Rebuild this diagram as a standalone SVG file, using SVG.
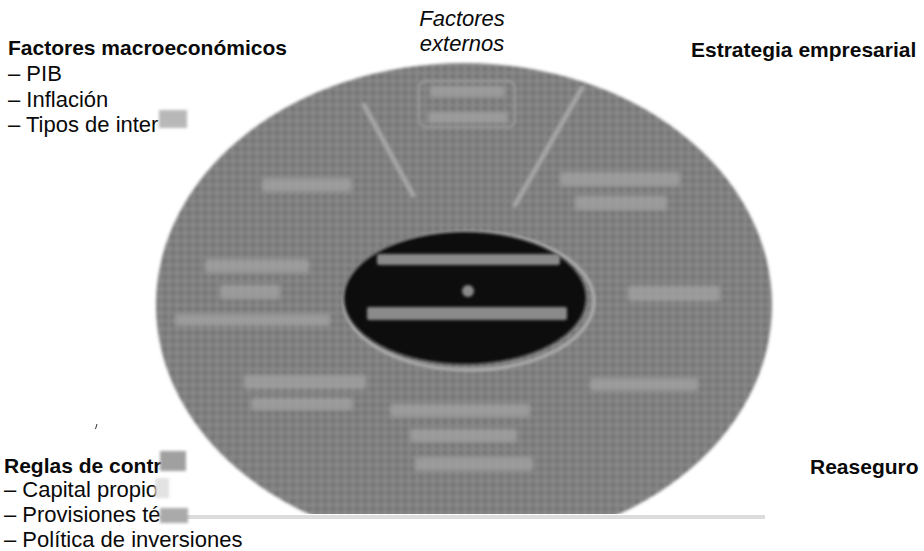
<svg xmlns="http://www.w3.org/2000/svg" width="924" height="551" viewBox="0 0 924 551">
<defs>
<style>
.t{font-family:"Liberation Sans",Arial,Helvetica,sans-serif;font-size:22px;fill:#0a0a0a}
.b{font-weight:bold;font-size:21px}
.i{font-style:italic}
.lab{fill:#a4a4a4;opacity:0.75;filter:url(#smear2)}
.ilab{fill:#8a8a8a;filter:url(#smear)}
.smudge{filter:url(#smear)}
.ray{stroke:#a4a4a4;stroke-width:5;stroke-linecap:round;fill:none;filter:url(#smear)}
</style>
<pattern id="grid" width="8" height="8" patternUnits="userSpaceOnUse">
<rect width="8" height="8" fill="#767676"/>
<rect x="0" y="0" width="8" height="1.8" fill="#8e8e8e"/>
<rect x="0" y="0" width="1.8" height="8" fill="#8e8e8e"/>
</pattern>
<filter id="soft" x="-10%" y="-10%" width="120%" height="120%"><feGaussianBlur stdDeviation="1.4"/></filter>
<filter id="smear" x="-50%" y="-50%" width="200%" height="200%"><feGaussianBlur stdDeviation="1.5"/></filter>
<filter id="smear2" x="-50%" y="-50%" width="200%" height="200%"><feGaussianBlur stdDeviation="2"/></filter>
<clipPath id="cut"><rect x="0" y="0" width="924" height="514"/></clipPath>
</defs>
<rect width="924" height="551" fill="#ffffff"/>

<g id="disc" clip-path="url(#cut)">
<ellipse cx="464" cy="305" rx="308" ry="242" fill="url(#grid)" filter="url(#soft)"/>
<rect x="419" y="81" width="96" height="46" rx="7" fill="none" stroke="#9c9c9c" stroke-width="2" class="smudge"/>
<rect class="lab" x="430" y="86" width="75" height="11" rx="2"/>
<rect class="lab" x="428" y="112" width="80" height="11" rx="2"/>
<rect class="lab" x="262" y="178" width="90" height="14" rx="2"/>
<rect class="lab" x="560" y="172" width="120" height="14" rx="2"/>
<rect class="lab" x="575" y="196" width="92" height="14" rx="2"/>
<rect class="lab" x="205" y="259" width="104" height="14" rx="2"/>
<rect class="lab" x="220" y="285" width="60" height="14" rx="2"/>
<rect class="lab" x="175" y="314" width="155" height="12" rx="2"/>
<rect class="lab" x="628" y="286" width="92" height="15" rx="2"/>
<rect class="lab" x="244" y="375" width="122" height="14" rx="2"/>
<rect class="lab" x="251" y="398" width="102" height="12" rx="2"/>
<rect class="lab" x="590" y="378" width="108" height="13" rx="2"/>
<rect class="lab" x="390" y="404" width="140" height="13" rx="2"/>
<rect class="lab" x="410" y="429" width="107" height="13" rx="2"/>
<rect class="lab" x="415" y="457" width="118" height="14" rx="2"/>
</g>

<g id="connectors">
<line class="ray" x1="364" y1="105" x2="413" y2="195"/>
<line class="ray" x1="582" y1="88" x2="515" y2="205"/>
</g>

<g id="core">
<ellipse cx="469" cy="301" rx="125" ry="69" fill="none" stroke="#b0b0b0" stroke-width="3" class="smudge"/>
<ellipse cx="465" cy="298" rx="121" ry="66" fill="#101010" filter="url(#soft)"/>
<rect class="ilab" x="377" y="254" width="183" height="11" rx="2"/>
<circle class="ilab" cx="468" cy="291" r="6"/>
<rect class="ilab" x="367" y="307" width="200" height="13" rx="2"/>
</g>

<rect x="160" y="515" width="605" height="4" fill="#dcdcdc"/>

<g id="macro">
<text class="t b" x="8" y="55">Factores macroeconómicos</text>
<text class="t" x="8" y="81">– PIB</text>
<text class="t" x="8" y="107">– Inflación</text>
<text class="t" x="8" y="132">– Tipos de inter</text>
<rect class="smudge" x="159" y="110" width="28" height="18" fill="#b8b8b8"/>
</g>

<g id="externos">
<text class="t i" x="462" y="26" text-anchor="middle">Factores</text>
<text class="t i" x="462" y="51" text-anchor="middle">externos</text>
</g>

<g id="estrategia">
<text class="t b" x="691" y="57">Estrategia empresarial</text>
</g>

<g id="reglas">
<line x1="97" y1="424" x2="95.5" y2="429" stroke="#333" stroke-width="1"/>
<text class="t b" x="4" y="473">Reglas de contr</text>
<text class="t" x="4" y="497">– Capital propio</text>
<text class="t" x="4" y="522">– Provisiones té</text>
<text class="t" x="4" y="547">– Política de inversiones</text>
<rect class="smudge" x="160" y="451" width="26" height="20" fill="#a0a0a0"/>
<rect class="smudge" x="155" y="478" width="14" height="20" fill="#e2e2e2"/>
<rect class="smudge" x="160" y="508" width="28" height="15" fill="#aaaaaa"/>
</g>

<g id="reaseguro">
<text class="t b" x="810" y="474">Reaseguro</text>
</g>
</svg>
